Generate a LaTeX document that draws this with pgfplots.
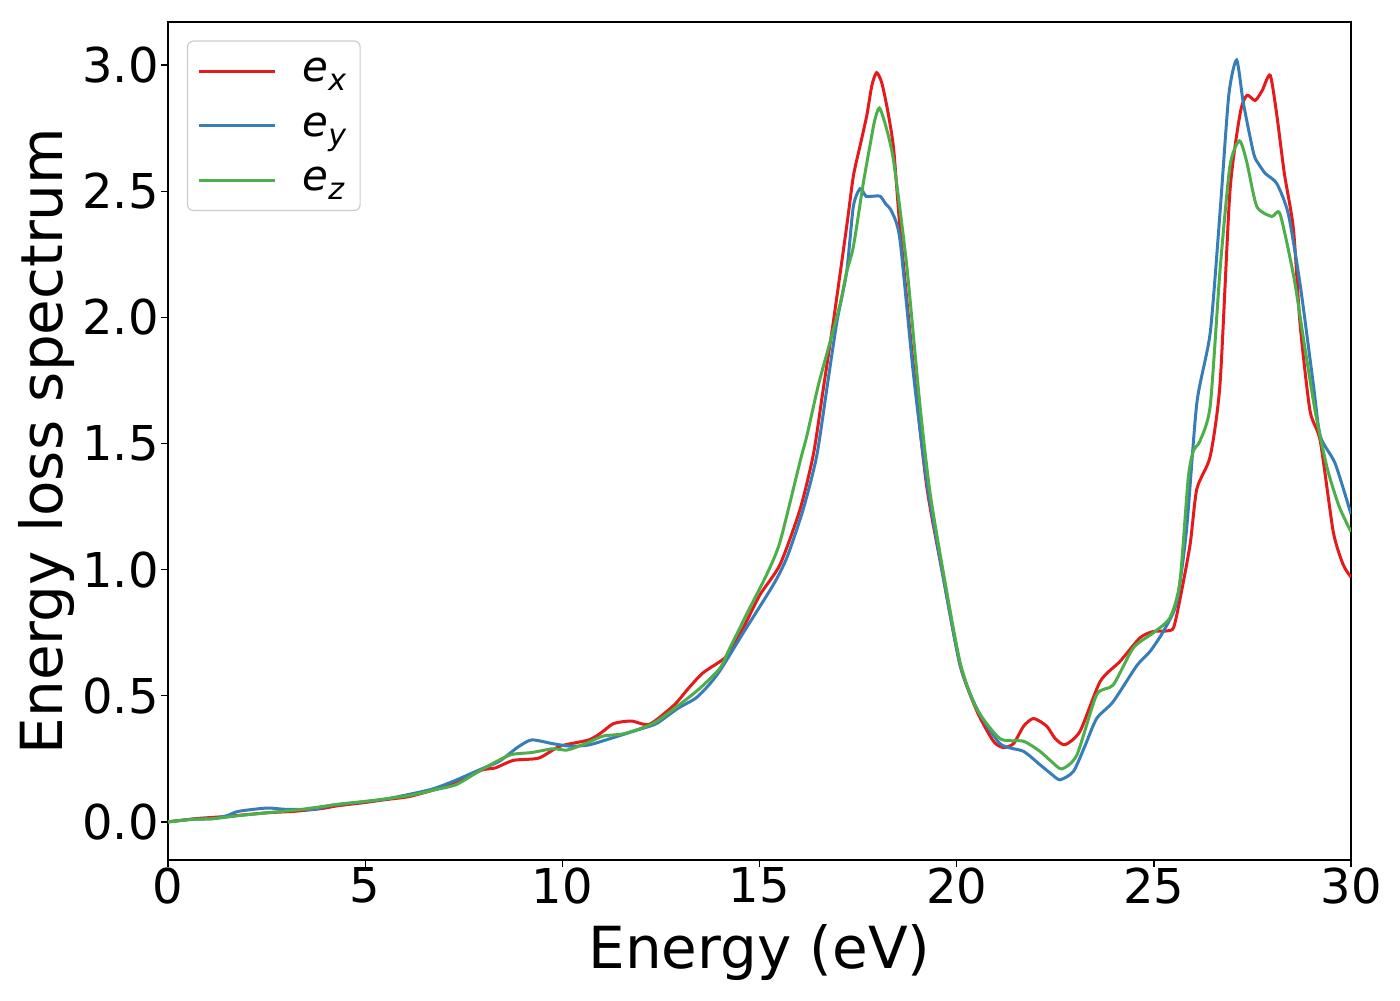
\documentclass[border=0pt]{standalone}
\usepackage{fontspec}
\setmainfont{DejaVu Sans}
\usepackage{pgfplots}
\pgfplotsset{compat=1.18}
\definecolor{cred}{HTML}{E41A1C}
\definecolor{cblue}{HTML}{377EB8}
\definecolor{cgreen}{HTML}{4DAF4A}
\begin{document}
\begin{tikzpicture}
\useasboundingbox (-84pt,-70pt) rectangle (616pt,430pt);
\begin{axis}[
 scale only axis, width=591.5pt, height=419pt,
 xmin=0, xmax=30, ymin=-0.151, ymax=3.171,
 xtick={0,5,...,30}, ytick={0,0.5,...,3},
 tick align=outside, xtick pos=left, ytick pos=left,
 major tick length=3.5pt,
 every tick/.style={black, line width=0.65pt},
 axis line style={line width=0.65pt},
 /pgf/number format/assume math mode=true,
 tick label style={font=\fontsize{24}{28}\selectfont},
 xticklabel style={anchor=north, inner sep=0pt},
 yticklabel style={anchor=east, inner sep=0pt, xshift=-1pt, /pgf/number format/.cd, fixed, fixed zerofill, precision=1},
 xlabel={Energy (eV)}, ylabel={Energy loss spectrum},
 label style={font=\fontsize{29}{34}\selectfont},
 xlabel style={at={(axis description cs:0.5,0)}, anchor=base, yshift=-54pt},
 ylabel style={at={(axis description cs:0,0.5)}, anchor=base, yshift=52.5pt},
 legend style={at={(axis description cs:0.016,0.978)}, anchor=north west,
   draw=black!20, rounded corners=3pt, line width=0.6pt,
   font=\fontsize{21}{25}\selectfont, inner xsep=5pt, inner ysep=6.5pt,
   row sep=10pt, nodes={inner sep=2pt},
   /tikz/every odd column/.append style={column sep=11pt}},
 legend cell align=left,
 legend image code/.code={\draw[#1, line width=1.5pt] (0pt,0pt) -- (38pt,0pt);},
 every axis plot/.append style={line width=1.5pt, smooth, tension=0.4},
]
\addplot[cred] coordinates {
(0,0) (0.7,0.013) (1.5,0.022) (2.5,0.036) (3.2,0.042) (3.9,0.053) (4.3,0.064)
(5.0,0.077) (5.5,0.088) (6.1,0.10) (6.7,0.125) (7.3,0.155) (7.95,0.205) (8.3,0.214)
(8.76,0.244) (9.4,0.253) (9.94,0.30) (10.67,0.325) (11.0,0.355) (11.3,0.39)
(11.75,0.40) (12.21,0.387) (12.84,0.464) (13.2,0.53) (13.56,0.59) (14.0,0.636)
(14.17,0.66) (14.59,0.77) (15.01,0.90) (15.52,1.02) (16.03,1.24) (16.37,1.46)
(16.62,1.72) (16.87,1.98) (17.21,2.36) (17.38,2.56) (17.55,2.68) (17.72,2.80)
(17.85,2.92) (17.97,2.97) (18.1,2.93) (18.25,2.82) (18.4,2.67) (18.56,2.36)
(18.9,1.81) (19.24,1.33) (19.66,0.97) (20.09,0.62) (20.51,0.44) (20.93,0.32)
(21.18,0.295) (21.44,0.31) (21.7,0.38) (21.95,0.41) (22.28,0.38) (22.5,0.33)
(22.75,0.306) (23.13,0.36) (23.64,0.557) (24.14,0.636) (24.65,0.73) (24.99,0.755)
(25.33,0.757) (25.5,0.77) (25.66,0.88) (25.92,1.10) (26.09,1.32) (26.43,1.45)
(26.68,1.74) (26.93,2.50) (27.19,2.81) (27.36,2.88) (27.57,2.86) (27.75,2.90)
(27.95,2.96) (28.12,2.80) (28.31,2.57) (28.54,2.35) (28.71,1.97) (28.96,1.63)
(29.22,1.51) (29.55,1.15) (29.8,1.02) (30,0.97)
};
\addlegendentry{{\itshape e\raisebox{-0.22em}{\fontsize{15}{15}\selectfont x}}}
\addplot[cblue] coordinates {
(0,0) (0.6,0.01) (1.16,0.013) (1.5,0.025) (1.79,0.042) (2.51,0.055) (2.97,0.05)
(3.69,0.05) (4.14,0.066) (4.87,0.078) (5.5,0.09) (6.14,0.11) (6.7,0.13) (7.22,0.16)
(7.95,0.21) (8.40,0.24) (8.86,0.295) (9.22,0.325) (9.76,0.31) (10.21,0.30)
(10.67,0.305) (11.21,0.33) (12.02,0.37) (12.39,0.39) (12.93,0.45) (13.38,0.49)
(13.7,0.54) (14.0,0.60) (14.59,0.75) (15.35,0.94) (15.7,1.05) (16.11,1.24)
(16.45,1.45) (16.71,1.72) (16.96,1.98) (17.21,2.18) (17.38,2.44) (17.55,2.51)
(17.7,2.48) (17.85,2.48) (18.06,2.48) (18.2,2.45) (18.35,2.42) (18.56,2.31)
(18.9,1.78) (19.24,1.35) (19.66,0.97) (20.09,0.62) (20.51,0.45) (21.1,0.31)
(21.69,0.28) (22.11,0.227) (22.4,0.19) (22.62,0.167) (22.96,0.20) (23.25,0.30)
(23.55,0.41) (23.97,0.477) (24.57,0.62) (24.9,0.675) (25.24,0.755) (25.58,0.87)
(25.83,1.16) (26.09,1.66) (26.43,1.94) (26.68,2.42) (26.9,2.88) (27.1,3.02)
(27.27,2.85) (27.53,2.65) (27.65,2.61) (27.83,2.57) (28.12,2.53) (28.41,2.41)
(28.71,2.13) (29.04,1.74) (29.22,1.53) (29.6,1.42) (30,1.22)
};
\addlegendentry{{\itshape e\raisebox{-0.22em}{\fontsize{15}{15}\selectfont y}}}
\addplot[cgreen] coordinates {
(0,0) (0.6,0.01) (1.16,0.013) (1.8,0.025) (2.51,0.036) (3.4,0.05) (4.33,0.07)
(5.2,0.085) (6.14,0.105) (6.7,0.125) (7.31,0.148) (7.95,0.207) (8.67,0.265)
(9.22,0.275) (9.76,0.29) (10.12,0.285) (10.58,0.31) (11.03,0.34) (11.57,0.35)
(12.30,0.39) (12.93,0.46) (13.49,0.53) (14.0,0.61) (14.25,0.69) (14.76,0.85)
(15.18,0.98) (15.52,1.11) (16.03,1.43) (16.2,1.53) (16.49,1.73) (16.75,1.88)
(17.04,2.05) (17.21,2.18) (17.38,2.28) (17.63,2.53) (17.80,2.68) (17.92,2.78)
(18.04,2.83) (18.2,2.76) (18.4,2.62) (18.73,2.21) (19.07,1.65) (19.32,1.31)
(19.66,0.99) (20.09,0.63) (20.5,0.45) (21.1,0.33) (21.69,0.32) (22.11,0.28)
(22.4,0.24) (22.67,0.21) (23.05,0.266) (23.55,0.504) (23.97,0.543) (24.48,0.69)
(24.99,0.75) (25.41,0.81) (25.66,0.95) (25.87,1.36) (26.0,1.47) (26.17,1.51)
(26.43,1.65) (26.68,2.19) (26.93,2.60) (27.17,2.70) (27.35,2.62) (27.61,2.44)
(27.99,2.40) (28.2,2.41) (28.55,2.16) (28.8,1.91) (29.1,1.62) (29.4,1.40)
(29.7,1.25) (30,1.15)
};
\addlegendentry{{\itshape e\raisebox{-0.22em}{\fontsize{15}{15}\selectfont z}}}
\end{axis}
\end{tikzpicture}
\end{document}
